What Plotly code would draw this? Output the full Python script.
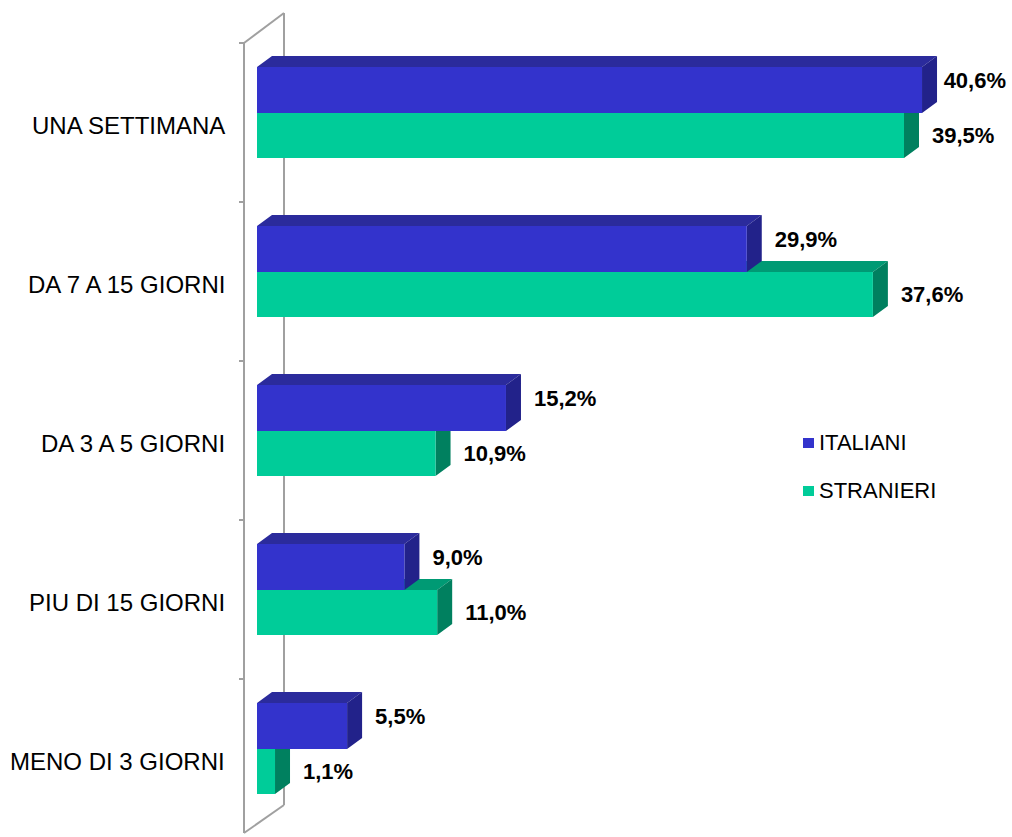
import plotly.graph_objects as go

categories = ["UNA SETTIMANA", "DA 7 A 15 GIORNI", "DA 3 A 5 GIORNI",
              "PIU DI 15 GIORNI", "MENO DI 3 GIORNI"]
italiani = [40.6, 29.9, 15.2, 9.0, 5.5]
stranieri = [39.5, 37.6, 10.9, 11.0, 1.1]
labels_italiani = ["40,6%", "29,9%", "15,2%", "9,0%", "5,5%"]
labels_stranieri = ["39,5%", "37,6%", "10,9%", "11,0%", "1,1%"]

FONT = "Arial, Liberation Sans, sans-serif"
W, H = 1012, 837
PX = 16.38      # pixels per percent on x
SLOT = 159.0    # pixels per category slot on y
bar_dx = 15 / PX
bar_dy = 11 / SLOT
LABEL_SIZE = 22

series = [
    # name, values, labels, top offset, bottom offset, label y shift (px), front, top face, side face
    ("ITALIANI", italiani, labels_italiani, 0.151, 0.440, -7, "#3333CC", "#2B2B9C", "#22228A"),
    ("STRANIERI", stranieri, labels_stranieri, 0.440, 0.723, 2, "#00CC99", "#009A74", "#00805F"),
]

fig = go.Figure()


def poly(points_list):
    xs, ys = [], []
    for pts in points_list:
        for px, py in pts:
            xs.append(px)
            ys.append(py)
        xs.append(pts[0][0])
        ys.append(pts[0][1])
        xs.append(None)
        ys.append(None)
    return xs, ys


def text_width(s, size):
    # rough bold Arial advance widths
    w = {",": 0.278, "%": 0.889}
    return sum(w.get(ch, 0.556) for ch in s) * size


# green first, then blue on top (so blue front covers green side faces)
for name, vals, labs, t, b, shift, c_front, c_top, c_side in reversed(series):
    tops, sides, fronts = [], [], []
    for i, v in enumerate(vals):
        y0, y1 = i + t, i + b
        tops.append([(0, y0), (v, y0), (v + bar_dx, y0 - bar_dy), (bar_dx, y0 - bar_dy)])
        sides.append([(v, y0), (v + bar_dx, y0 - bar_dy), (v + bar_dx, y1 - bar_dy), (v, y1)])
        fronts.append([(0, y0), (v, y0), (v, y1), (0, y1)])
    for pts, col in ((tops, c_top), (sides, c_side), (fronts, c_front)):
        xs, ys = poly(pts)
        fig.add_trace(go.Scatter(x=xs, y=ys, mode="lines", fill="toself",
                                 fillcolor=col, line=dict(width=0, color=col),
                                 name=name, showlegend=False, hoverinfo="skip"))

# value labels: right of the bar's side face, pushed back inside at the right edge
x_max = (W - 257) / PX
for name, vals, labs, t, b, shift, c_front, c_top, c_side in series:
    lx = []
    for v, s in zip(vals, labs):
        room = x_max - 6 / PX - text_width(s, LABEL_SIZE) / PX
        lx.append(min(v + bar_dx + 13 / PX, room))
    ly = [i + (t + b) / 2 + shift / SLOT for i in range(len(vals))]
    fig.add_trace(go.Scatter(x=lx, y=ly, mode="text", text=labs,
                             textposition="middle right",
                             textfont=dict(family=FONT, size=LABEL_SIZE, color="black", weight="bold"),
                             showlegend=False, hoverinfo="skip", cliponaxis=False))

# 3D frame (front axis line, back wall line, ticks)
x_front = (244 - 257) / PX
x_back = (284 - 257) / PX
x_tick = (239 - 257) / PX
y_top_front, y_bot_front = 0.0, (833 - 43) / SLOT
y_top_back, y_bot_back = (13 - 43) / SLOT, (805 - 43) / SLOT
frame = dict(color="#A0A0A0", width=2)
shapes = [
    dict(type="line", x0=x_front, x1=x_front, y0=y_top_front, y1=y_bot_front),
    dict(type="line", x0=x_back, x1=x_back, y0=y_top_back, y1=y_bot_back),
    dict(type="line", x0=x_front, x1=x_back, y0=y_top_front, y1=y_top_back),
    dict(type="line", x0=x_front, x1=x_back, y0=y_bot_front, y1=y_bot_back),
]
for k in range(len(categories)):
    shapes.append(dict(type="line", x0=x_tick, x1=x_front, y0=k, y1=k))
for s in shapes:
    s.update(xref="x", yref="y", line=frame, layer="below")

annotations = [
    dict(x=x_front, y=i + 0.516, xref="x", yref="y", text=c, showarrow=False,
         xanchor="right", yanchor="middle", xshift=-17,
         font=dict(family=FONT, size=24, color="black"))
    for i, c in enumerate(categories)
]

# legend (square swatch + text), drawn in pixel-based paper coords
legend_y = [443, 491]
for s_item, cy in zip(series, legend_y):
    name, color = s_item[0], s_item[6]
    shapes.append(dict(type="rect", xref="paper", yref="paper",
                       x0=(803 - 235) / (W - 235), x1=(814 - 235) / (W - 235),
                       y0=1 - (cy + 5) / H, y1=1 - (cy - 5) / H,
                       fillcolor=color, line=dict(width=0)))
    annotations.append(dict(x=(817 - 235) / (W - 235), y=1 - cy / H,
                            xref="paper", yref="paper", text=name, showarrow=False,
                            xanchor="left", yanchor="middle",
                            font=dict(family=FONT, size=22, color="black")))

fig.update_layout(
    width=W, height=H,
    margin=dict(l=235, r=0, t=0, b=0),
    paper_bgcolor="white", plot_bgcolor="white",
    shapes=shapes, annotations=annotations,
    xaxis=dict(range=[(235 - 257) / PX, x_max], visible=False, fixedrange=True),
    yaxis=dict(range=[(H - 43) / SLOT, -43 / SLOT], visible=False, fixedrange=True),
    showlegend=False,
)

fig.write_html("out.html", config={"displayModeBar": False},
               post_script="document.body.style.margin='0';")
